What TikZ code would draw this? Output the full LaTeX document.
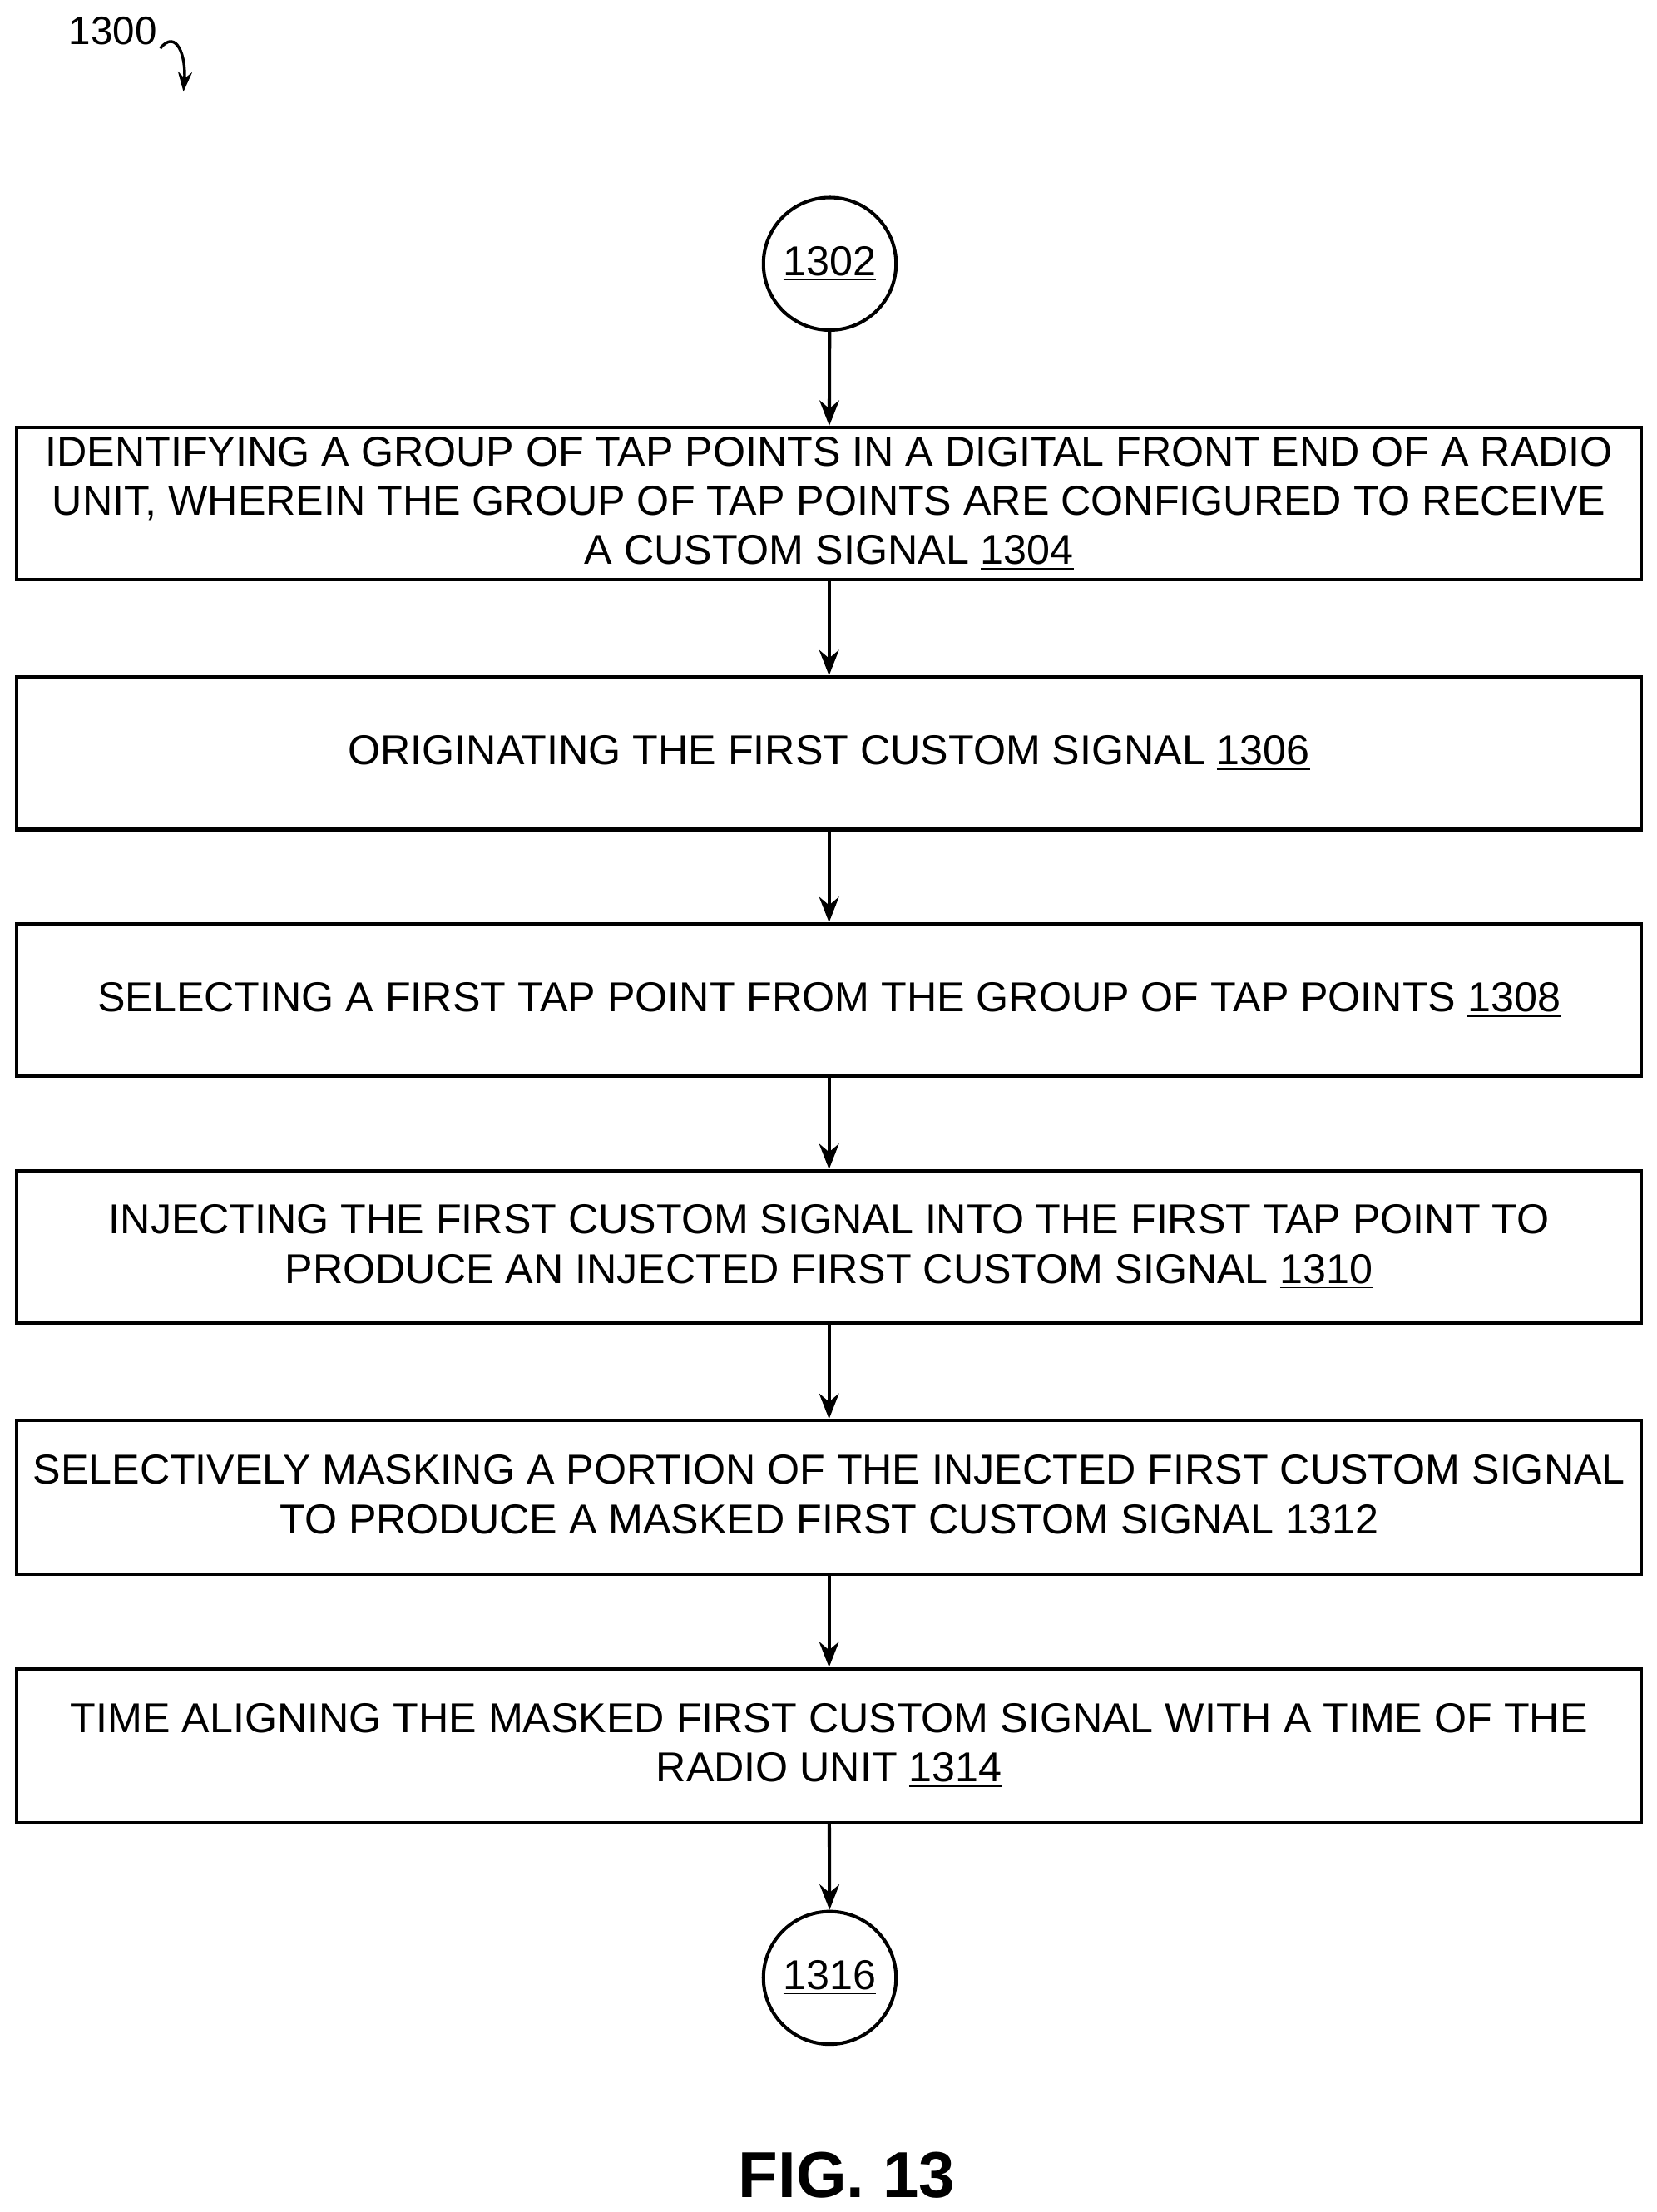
\documentclass[tikz,border=0pt]{standalone}
\usepackage{fontspec}
\setmainfont{Liberation Sans}
\usetikzlibrary{arrows.meta}
\begin{document}
\begin{tikzpicture}[x=0.5pt,y=-0.5pt,
  stepbox/.style={draw,line width=1.2pt,minimum width=575.5pt,align=center,font=\fontsize{14.8}{17.5}\selectfont,inner sep=0pt},
  conn/.style={draw,circle,line width=1.2pt,minimum size=47pt,inner sep=0pt,font=\fontsize{14.8}{17.5}\selectfont},
  arr/.style={-{Stealth[length=9pt,width=7pt]},line width=1.2pt}]
\useasboundingbox (0,0) rectangle (1174,1568);
\node[conn] (c1) at (588,187) {\underline{1302}};
\node[stepbox,minimum height=54pt] (b1) at (587.5,357) {IDENTIFYING A GROUP OF TAP POINTS IN A DIGITAL FRONT END OF A RADIO\\UNIT, WHEREIN THE GROUP OF TAP POINTS ARE CONFIGURED TO RECEIVE\\A CUSTOM SIGNAL \underline{1304}};
\node[stepbox,minimum height=54pt] (b2) at (587.5,534) {ORIGINATING THE FIRST CUSTOM SIGNAL \underline{1306}};
\node[stepbox,minimum height=54pt] (b3) at (587.5,709) {SELECTING A FIRST TAP POINT FROM THE GROUP OF TAP POINTS \underline{1308}};
\node[stepbox,minimum height=54pt] (b4) at (587.5,884) {INJECTING THE FIRST CUSTOM SIGNAL INTO THE FIRST TAP POINT TO\\PRODUCE AN INJECTED FIRST CUSTOM SIGNAL \underline{1310}};
\node[stepbox,minimum height=54.5pt] (b5) at (587.5,1061.5) {SELECTIVELY MASKING A PORTION OF THE INJECTED FIRST CUSTOM SIGNAL\\TO PRODUCE A MASKED FIRST CUSTOM SIGNAL \underline{1312}};
\node[stepbox,minimum height=54.5pt] (b6) at (587.5,1237.5) {TIME ALIGNING THE MASKED FIRST CUSTOM SIGNAL WITH A TIME OF THE\\RADIO UNIT \underline{1314}};
\node[conn] (c2) at (588,1402) {\underline{1316}};
\draw[arr] (c1) -- (b1);
\draw[arr] (b1) -- (b2);
\draw[arr] (b2) -- (b3);
\draw[arr] (b3) -- (b4);
\draw[arr] (b4) -- (b5);
\draw[arr] (b5) -- (b6);
\draw[arr] (b6) -- (c2);
\node[font=\fontsize{23}{26}\selectfont\bfseries] (fig) at (600,1542) {FIG. 13};
\node[font=\fontsize{14}{16}\selectfont,inner sep=1pt] (lab) at (80,22) {1300};
\coordinate (labend) at (130,65);
\draw[-{Stealth[length=7pt,width=5pt]},line width=1pt] (lab.south east) .. controls (125,20) and (132,40) .. (labend);
\end{tikzpicture}
\end{document}
